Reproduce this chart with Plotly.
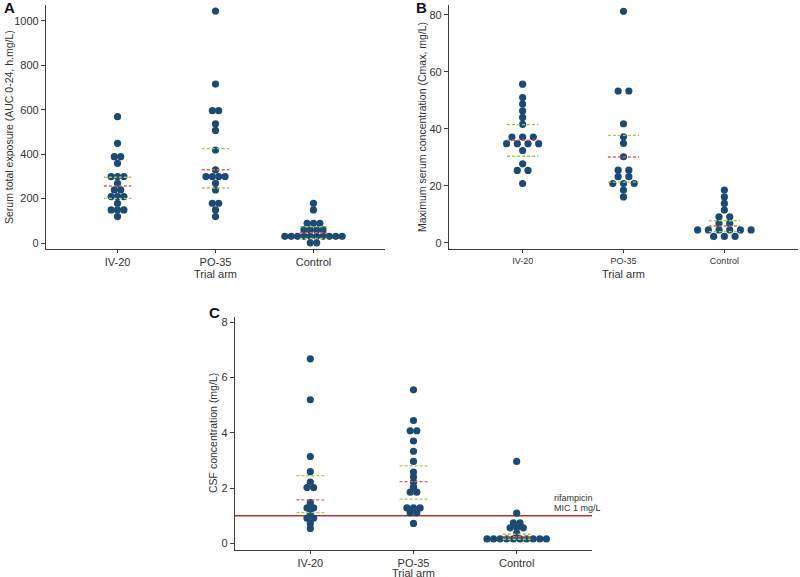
import plotly.graph_objects as go
from collections import Counter

# ---------------- data ----------------
arms = ["IV-20", "PO-35", "Control"]

# Panel A: serum AUC 0-24 (h.mg/L)
auc_iv20 = [569, 449, 389, 389, 359, 299, 299, 299, 269, 239, 239, 209, 209, 209, 179, 149, 149, 149, 119]
auc_po35 = [1045, 716, 596, 596, 537, 507, 419, 329, 299, 299, 299, 299, 269, 239, 179, 179, 149, 119]
auc_control = [179, 149, 89, 89, 89, 59, 59, 59, 59,
               30, 30, 30, 30, 30, 30, 30, 30, 30, 30, 1, 1]
auc_median = [257, 330, 46]
auc_q1 = [201, 248, 20]
auc_q3 = [296, 425, 74]

# Panel B: Cmax (mg/L)
cmax_iv20 = [55.7, 51.0, 48.7, 46.3, 44.0, 41.6, 37.1, 37.1, 37.1, 34.8, 34.8, 34.8, 34.8,
             32.4, 27.7, 25.4, 25.4, 20.8]
cmax_po35 = [81.3, 53.3, 53.3, 41.8, 37.2, 34.9, 30.2, 25.5, 25.5, 23.2, 23.2, 20.8, 20.8, 20.8,
             18.5, 16.1]
cmax_control = [18.5, 16.1, 13.8, 11.5, 9.1, 9.1, 6.8, 6.8, 4.5, 4.5, 4.5, 4.5, 4.5, 4.5,
                2.2, 2.2, 2.2]
cmax_median = [36.0, 30.1, 5.9]
cmax_q1 = [30.4, 21.3, 3.9]
cmax_q3 = [41.5, 37.7, 7.7]

# Panel C: CSF concentration (mg/L)
csf_iv20 = [6.67, 5.19, 3.14, 2.59, 2.21, 2.02, 2.02, 1.47, 1.28, 1.28, 1.10, 0.91, 0.91, 0.72, 0.54]
csf_po35 = [5.55, 4.44, 4.07, 4.07, 3.70, 3.33, 2.96, 2.58, 2.40, 2.21, 2.03, 1.85, 1.85,
            1.28, 1.28, 1.28, 1.10, 1.10, 0.72]
csf_control = [2.96, 1.09, 0.74, 0.74, 0.56, 0.56, 0.56, 0.37,
               0.16, 0.16, 0.16, 0.16, 0.16, 0.16, 0.16, 0.16, 0.16, 0.16]
csf_median = [1.57, 2.23, 0.24]
csf_q1 = [1.11, 1.60, 0.15]
csf_q3 = [2.45, 2.80, 0.33]
mic_value = 1.0

# ---------------- styling ----------------
DOT = "#1d4a72"
AXC = "#3c3c3c"
TXT = "#333333"
RED = "#d8625a"
GREEN = "#a9c64f"
FONT = "Liberation Sans, Arial, Helvetica, sans-serif"


def dot_x(values, center, step):
    counts = Counter(values)
    seen = {}
    xs = []
    for v in values:
        n = counts[v]
        i = seen.get(v, 0)
        seen[v] = i + 1
        xs.append(center + (i - (n - 1) / 2) * step)
    return xs


fig = go.Figure()
shapes = []

panels = [
    ("x", "y", [auc_iv20, auc_po35, auc_control], auc_median, auc_q1, auc_q3, 0.065, 0.14),
    ("x2", "y2", [cmax_iv20, cmax_po35, cmax_control], cmax_median, cmax_q1, cmax_q3, 0.106, 0.155),
    ("x3", "y3", [csf_iv20, csf_po35, csf_control], csf_median, csf_q1, csf_q3, 0.064, 0.135),
]

for xr, yr, groups, med, q1, q3, step, hw in panels:
    for i, vals in enumerate(groups):
        fig.add_trace(go.Scatter(
            x=dot_x(vals, i, step), y=vals, mode="markers",
            marker=dict(size=7.2, color=DOT, line=dict(width=0)),
            xaxis=xr, yaxis=yr, showlegend=False, hoverinfo="y"))
    for i in range(3):
        for val, col in ((q1[i], GREEN), (q3[i], GREEN), (med[i], RED)):
            shapes.append(dict(type="line", xref=xr, yref=yr,
                               x0=i - hw, x1=i + hw, y0=val, y1=val,
                               line=dict(color=col, width=1.4, dash="3px,2px"),
                               layer="above"))

# MIC reference line in panel C
shapes.append(dict(type="line", xref="x3 domain", yref="y3", x0=0, x1=1,
                   y0=mic_value, y1=mic_value,
                   line=dict(color="#b8332f", width=1.4), layer="below"))


def px_x(p):
    return p / 800


def px_y(p):
    return 1 - p / 577


axis_common = dict(showline=True, linecolor=AXC, linewidth=1.2, ticks="outside",
                   ticklen=4, tickwidth=1, tickcolor=AXC, showgrid=False, zeroline=False,
                   tickfont=dict(family=FONT, size=11, color=TXT))

xcommon = dict(axis_common, tickvals=[0, 1, 2], ticktext=arms, range=[-0.73, 2.73],
               ticklen=3)

fig.update_layout(
    width=800, height=577,
    margin=dict(l=0, r=0, t=0, b=0),
    paper_bgcolor="white", plot_bgcolor="white",
    font=dict(family=FONT, color=TXT),
    xaxis=dict(xcommon, domain=[px_x(46), px_x(385)], anchor="y"),
    yaxis=dict(axis_common, domain=[px_y(249), px_y(5)], anchor="x",
               range=[-27, 1072], tickvals=[0, 200, 400, 600, 800, 1000]),
    xaxis2=dict(xcommon, domain=[px_x(449), px_x(798)], anchor="y2",
                tickfont=dict(family=FONT, size=9, color=TXT)),
    yaxis2=dict(axis_common, domain=[px_y(249), px_y(5)], anchor="x2",
                range=[-2.2, 83.5], tickvals=[0, 20, 40, 60, 80]),
    xaxis3=dict(xcommon, domain=[px_x(235), px_x(592)], anchor="y3"),
    yaxis3=dict(axis_common, domain=[px_y(550), px_y(316.5)], anchor="x3",
                range=[-0.24, 8.2], tickvals=[0, 2, 4, 6, 8]),
    shapes=shapes,
)

ann = []


def text(x, y, s, size=11, bold=False, angle=0, xanchor="center", yanchor="middle"):
    ann.append(dict(x=px_x(x), y=px_y(y), xref="paper", yref="paper", text=s,
                    showarrow=False, textangle=angle, xanchor=xanchor, yanchor=yanchor,
                    font=dict(family=FONT, size=size, color="#111111" if bold else TXT)))


text(2, 8, "<b>A</b>", size=15, bold=True, xanchor="left")
text(414, 8, "<b>B</b>", size=15, bold=True, xanchor="left")
text(207, 312, "<b>C</b>", size=15, bold=True, xanchor="left")

text(9, 127, "Serum total exposure (AUC 0-24, h.mg/L)", size=10.5, angle=-90)
text(422, 127, "Maximum serum concentration (Cmax, mg/L)", size=10.5, angle=-90)
text(213, 433, "CSF concentration (mg/L)", size=10.5, angle=-90)

text(215, 273.5, "Trial arm", size=11)
text(623, 273.5, "Trial arm", size=11)
text(413, 573, "Trial arm", size=11)

text(552, 498, "rifampicin", size=9, xanchor="left")
text(552, 508, "MIC 1 mg/L", size=9, xanchor="left")

fig.update_layout(annotations=ann)

fig.write_html("out.html", config={"displayModeBar": False},
               post_script="document.body.style.margin='0px';document.body.style.overflow='hidden';")
